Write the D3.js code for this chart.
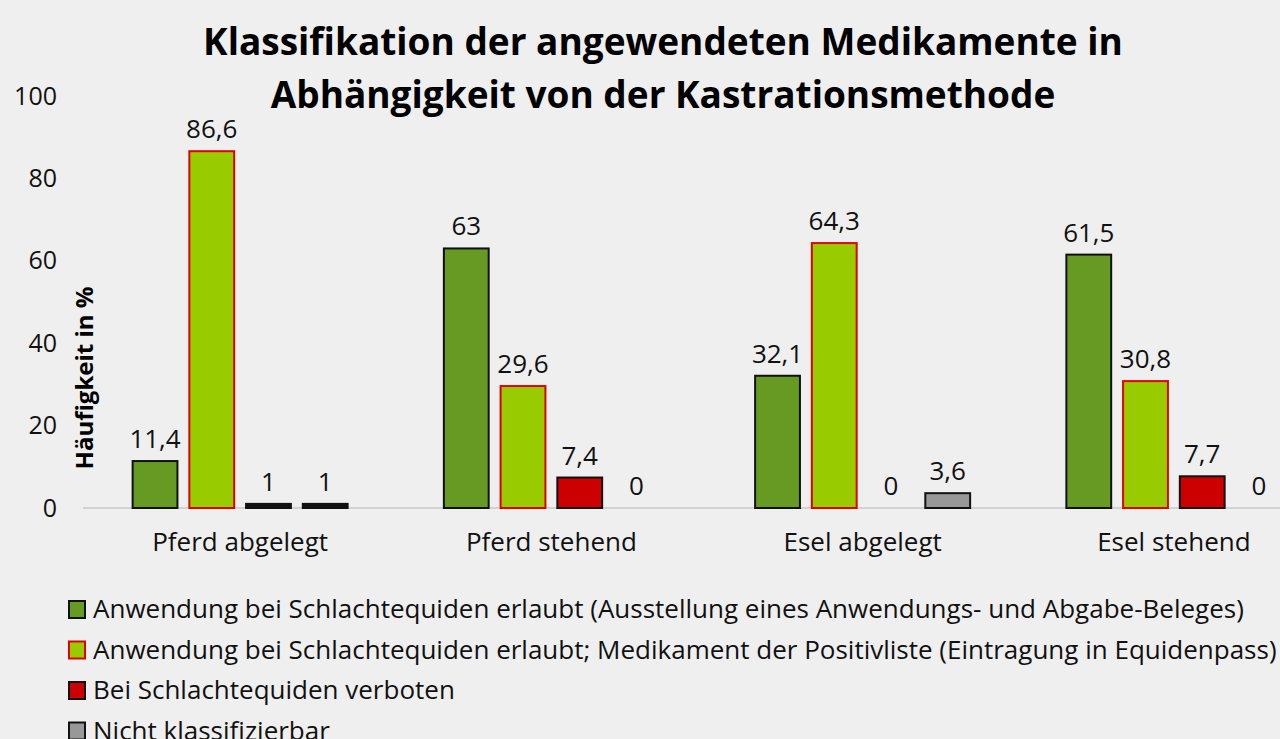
<!DOCTYPE html>
<html>
<head>
<meta charset="utf-8">
<script src="https://cdn.jsdelivr.net/npm/d3@7"></script>
<style>
  body { margin: 0; background: #efefef; }
  svg { display: block; font-family: "Open Sans", sans-serif; }
</style>
</head>
<body>
<div id="chart"></div>
<script>
// chart data
const categories = ["Pferd abgelegt", "Pferd stehend", "Esel abgelegt", "Esel stehend"];
const seriesNames = [
  "Anwendung bei Schlachtequiden erlaubt (Ausstellung eines Anwendungs- und Abgabe-Beleges)",
  "Anwendung bei Schlachtequiden erlaubt; Medikament der Positivliste (Eintragung in Equidenpass)",
  "Bei Schlachtequiden verboten",
  "Nicht klassifizierbar"
];
const erlaubt = [11.4, 63, 32.1, 61.5];
const positivliste = [86.6, 29.6, 64.3, 30.8];
const verboten = [1, 7.4, 0, 7.7];
const nichtKlassifizierbar = [1, 0, 3.6, 0];
const yTicks = [0, 20, 40, 60, 80, 100];

const seriesValues = [erlaubt, positivliste, verboten, nichtKlassifizierbar];
const fills = ["#669a22", "#99cc00", "#cc0000", "#989898"];
const strokes = ["#111", "#e00000", "#111", "#111"];

const width = 1280, height = 739;
const svg = d3.select("#chart").append("svg")
  .attr("width", width).attr("height", height);

svg.append("rect").attr("width", width).attr("height", height).attr("fill", "#efefef");

// scales
const x0 = d3.scaleBand().domain(categories).range([84.5, 1329.5]).padding(0);
const x1 = d3.scaleBand().domain(d3.range(4)).range([-107.5, 107.5]).paddingInner(0.21);
const y = d3.scaleLinear().domain([0, 100]).range([508, 96]);

// title
svg.append("text")
  .attr("x", 663).attr("y", 55)
  .attr("text-anchor", "middle")
  .attr("font-weight", "bold").attr("font-size", 37)
  .selectAll("tspan")
  .data(["Klassifikation der angewendeten Medikamente in", "Abhängigkeit von der Kastrationsmethode"])
  .join("tspan")
  .attr("x", 663)
  .attr("dy", (d, i) => i === 0 ? 0 : 53)
  .text(d => d);

// y axis
const yAxis = svg.append("g")
  .attr("transform", "translate(57,0)")
  .call(d3.axisLeft(y).tickValues(yTicks).tickSize(0).tickPadding(0));
yAxis.select(".domain").remove();
yAxis.selectAll("text").attr("font-size", 25).attr("fill", "#111")
  .attr("font-family", "Open Sans, sans-serif");

svg.append("text")
  .attr("transform", "translate(93,378) rotate(-90)")
  .attr("text-anchor", "middle")
  .attr("font-weight", "bold").attr("font-size", 24)
  .text("Häufigkeit in %");

// x axis
const xAxis = svg.append("g")
  .attr("transform", `translate(0,${y(0)})`)
  .call(d3.axisBottom(x0).tickSize(0).tickPadding(25));
xAxis.select(".domain").attr("stroke", "#c8c8c8").attr("stroke-width", 1.5)
  .attr("d", `M83,0H1280`);
xAxis.selectAll("text").attr("font-size", 26).attr("fill", "#111")
  .attr("font-family", "Open Sans, sans-serif");

// bars
const groups = svg.append("g").selectAll("g")
  .data(categories)
  .join("g")
  .attr("transform", d => `translate(${x0(d) + x0.bandwidth() / 2},0)`);

const barData = (cat, ci) => seriesValues.map((vals, si) => ({ si, value: vals[ci] }));

groups.selectAll("rect")
  .data((d, ci) => barData(d, ci).filter(b => b.value > 0))
  .join("rect")
  .attr("x", b => x1(b.si))
  .attr("y", b => y(b.value))
  .attr("width", x1.bandwidth())
  .attr("height", b => y(0) - y(b.value))
  .attr("fill", b => b.value < 2 ? "#111" : fills[b.si])
  .attr("stroke", b => b.value < 2 ? "#111" : strokes[b.si])
  .attr("stroke-width", 2);

groups.selectAll("text")
  .data((d, ci) => barData(d, ci))
  .join("text")
  .attr("x", b => x1(b.si) + x1.bandwidth() / 2)
  .attr("y", b => y(b.value) - 13)
  .attr("text-anchor", "middle")
  .attr("font-size", 26).attr("fill", "#111")
  .text(b => String(b.value).replace(".", ","));

// legend
const legend = svg.append("g").selectAll("g")
  .data(seriesNames)
  .join("g")
  .attr("transform", (d, i) => `translate(68,${609 + i * 40.5})`);

legend.append("rect")
  .attr("x", 1).attr("y", -8)
  .attr("width", 16).attr("height", 17)
  .attr("fill", (d, i) => fills[i])
  .attr("stroke", (d, i) => strokes[i])
  .attr("stroke-width", 2);

legend.append("text")
  .attr("x", 25).attr("y", 9)
  .attr("font-size", 26).attr("fill", "#111")
  .text(d => d);
</script>
</body>
</html>
